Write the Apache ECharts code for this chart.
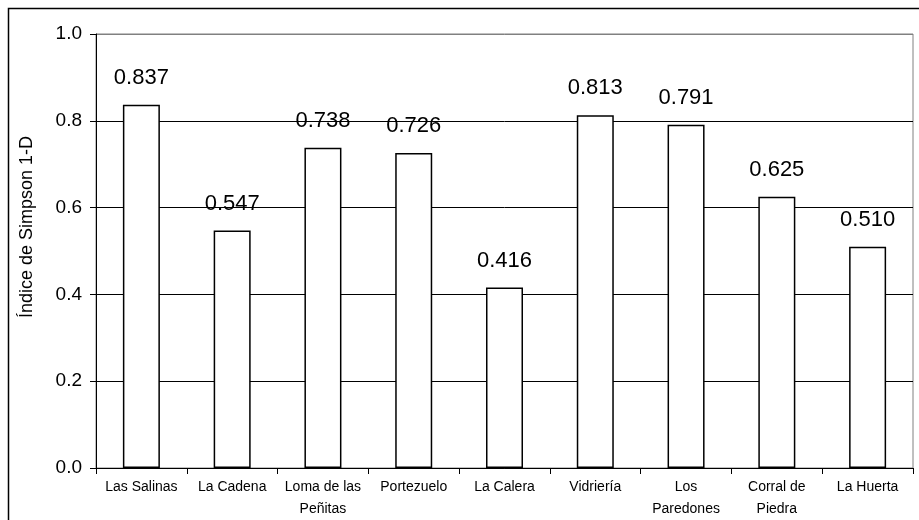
<!DOCTYPE html>
<html>
<head>
<meta charset="utf-8">
<script src="https://cdn.jsdelivr.net/npm/echarts@6/dist/echarts.min.js"></script>
<style>
  html, body { margin: 0; padding: 0; background: #fff; }
  #chart { width: 919px; height: 520px; }
</style>
</head>
<body>
<div id="chart"></div>
<script>
// sitios y valores del índice
var sitios = ['Las Salinas', 'La Cadena', 'Loma de las\nPeñitas', 'Portezuelo', 'La Calera',
  'Vidriería', 'Los\nParedones', 'Corral de\nPiedra', 'La Huerta'];
var simpson = [0.837, 0.547, 0.738, 0.726, 0.416, 0.813, 0.791, 0.625, 0.510];
var tituloY = 'Índice de Simpson 1-D';

var FONT = 'Liberation Sans, Arial, sans-serif';

var myChart = echarts.init(document.getElementById('chart'));
myChart.setOption({
  animation: false,
  backgroundColor: '#fff',
  textStyle: { fontFamily: FONT },
  graphic: [{
    type: 'rect',
    shape: { x: 8.5, y: 8.5, width: 930, height: 530 },
    style: { fill: 'none', stroke: '#000', lineWidth: 1.5 },
    silent: true
  }, {
    // titulo del eje Y, un poco arriba del centro como en el original
    type: 'text',
    x: 27, y: 227, rotation: Math.PI / 2,
    style: { text: tituloY, fill: '#000', fontSize: 18, fontFamily: FONT, align: 'center', verticalAlign: 'middle' },
    silent: true
  }],
  grid: {
    left: 96, right: 6, top: 34, bottom: 52,
    show: true, borderColor: '#808080', borderWidth: 1, backgroundColor: 'transparent'
  },
  xAxis: {
    type: 'category',
    data: sitios,
    axisLine: { lineStyle: { color: '#000', width: 1 } },
    axisTick: { show: true, alignWithLabel: false, length: 6, lineStyle: { color: '#000' } },
    axisLabel: { color: '#000', fontSize: 14, lineHeight: 22, margin: 8, interval: 0, fontFamily: FONT }
  },
  yAxis: {
    type: 'value',
    min: 0, max: 1, interval: 0.2,
    axisLine: { show: true, lineStyle: { color: '#000', width: 1 } },
    axisTick: { show: true, length: 6, lineStyle: { color: '#000' } },
    axisLabel: {
      color: '#000', fontSize: 19, margin: 14, fontFamily: FONT,
      formatter: function (v) { return v.toFixed(1); }
    },
    splitLine: { show: true, lineStyle: { color: ['#000', '#000', '#000', '#000', '#000', '#808080'], width: 1 } }
  },
  series: [{
    type: 'bar',
    data: simpson,
    barWidth: 37,
    itemStyle: { color: '#fff', borderColor: '#000', borderWidth: 1.5 },
    label: {
      show: true, position: 'top', distance: 16,
      color: '#000', fontSize: 22, fontFamily: FONT,
      formatter: function (p) { return p.value.toFixed(3); }
    }
  }]
});
</script>
</body>
</html>
